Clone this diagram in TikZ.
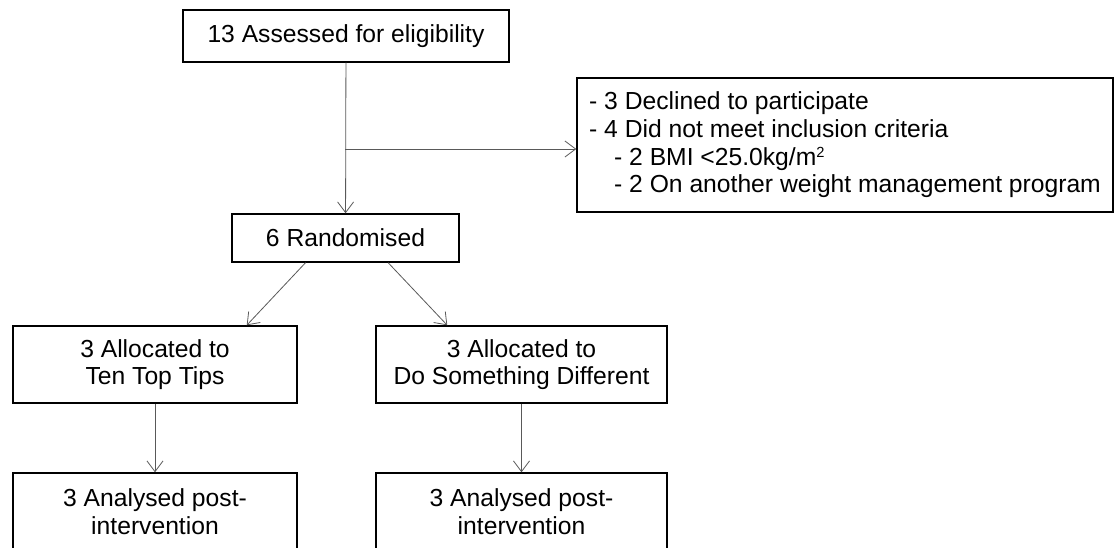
\documentclass[tikz,border=0pt]{standalone}
\usepackage{fontspec}
\setmainfont{Liberation Sans}
\usetikzlibrary{arrows.meta}

\begin{document}
\begin{tikzpicture}[x=0.75pt, y=-0.75pt,
    box/.style={draw, line width=1.1pt, align=center, inner sep=0pt,
                font=\fontsize{18.5}{20.8}\selectfont},
    arr/.style={-{Straight Barb[length=8pt, width=12pt]}, draw=black!65, line width=0.6pt}]
    \useasboundingbox (0,0) rectangle (1115,548);
    \clip (0,0) rectangle (1115,548);

    % Boxes of the flow
    \node[box, minimum width=244.5pt, minimum height=39pt] (assess) at (346,36) {13 Assessed for eligibility};
    \node[box, minimum width=170.25pt, minimum height=36pt] (rand) at (345.5,238) {6 Randomised};
    \node[box, minimum width=402pt, minimum height=100.5pt, align=left] (excl) at (845,145) {%
        - 3 Declined to participate\\
        - 4 Did not meet inclusion criteria\\
        \hspace*{18.75pt}- 2 BMI <25.0kg/m{\raisebox{6pt}{\fontsize{11}{11}\selectfont 2}}\\
        \hspace*{18.75pt}- 2 On another weight management program};

    % The two arms
    \foreach \arm/\x/\w/\name in {A/155/213/Ten Top Tips, B/521.5/218.25/Do Something Different} {
        \node[box, minimum width=\w pt, minimum height=57.75pt] (alloc\arm) at (\x,364.5) {3 Allocated to\\\name};
        \node[box, minimum width=\w pt, minimum height=57.75pt] (ana\arm) at (\x,511.5) {3 Analysed post-\\intervention};
        \draw[arr] (alloc\arm) -- (ana\arm);
    }

    % Connectors
    \draw[arr] (assess) -- (rand);
    \coordinate (split) at (345,149);
    \draw[arr] (split) -- (split -| excl.west);
    \draw[arr] ([xshift=-30pt]rand.south) -- ([xshift=-38.25pt]allocA.north east);
    \draw[arr] ([xshift=32pt]rand.south) -- ([xshift=54pt]allocB.north west);
\end{tikzpicture}
\end{document}
